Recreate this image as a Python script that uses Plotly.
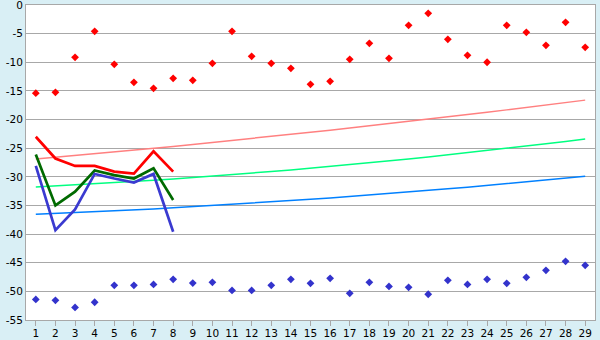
import plotly.graph_objects as go

categories = list(range(1, 30))

red_points = [-15.4, -15.25, -9.14, -4.6, -10.36, -13.5, -14.55, -12.8, -13.15, -10.19,
              -4.6, -8.97, -10.19, -11.06, -13.85, -13.33, -9.49, -6.69, -9.31, -3.55,
              -1.45, -6.0, -8.79, -10.0, -3.55, -4.77, -7.04, -3.03, -7.39]
blue_points = [-51.4, -51.57, -52.8, -51.9, -48.95, -48.95, -48.78, -47.9, -48.55, -48.43,
               -49.83, -49.83, -48.95, -47.9, -48.6, -47.73, -50.35, -48.43, -49.13, -49.3,
               -50.5, -48.08, -48.78, -47.9, -48.6, -47.55, -46.33, -44.76, -45.46]

line_cats = [1, 2, 3, 4, 5, 6, 7, 8]
red_line = [-23.0, -26.8, -28.1, -28.1, -29.1, -29.45, -25.55, -29.1]
green_line = [-26.1, -35.0, -32.6, -28.9, -29.7, -30.3, -28.5, -34.05]
blue_line = [-28.1, -39.3, -35.7, -29.5, -30.3, -31.0, -29.5, -39.6]

red_trend = [-26.90, -26.60, -26.29, -25.98, -25.67, -25.34, -25.02, -24.69, -24.35, -24.01,
             -23.67, -23.32, -22.96, -22.60, -22.23, -21.86, -21.49, -21.11, -20.72, -20.34,
             -19.94, -19.54, -19.14, -18.73, -18.31, -17.89, -17.47, -17.04, -16.61]
green_trend = [-31.78, -31.60, -31.42, -31.23, -31.02, -30.81, -30.59, -30.36, -30.12, -29.87,
               -29.61, -29.35, -29.07, -28.79, -28.49, -28.19, -27.87, -27.55, -27.22, -26.88,
               -26.53, -26.17, -25.80, -25.43, -25.04, -24.64, -24.24, -23.83, -23.40]
blue_trend = [-36.55, -36.41, -36.26, -36.11, -35.94, -35.78, -35.60, -35.42, -35.22, -35.03,
              -34.82, -34.61, -34.39, -34.16, -33.93, -33.69, -33.44, -33.19, -32.93, -32.66,
              -32.38, -32.10, -31.81, -31.51, -31.20, -30.89, -30.57, -30.25, -29.91]

y_ticks = [0, -5, -10, -15, -20, -25, -30, -35, -40, -45, -50, -55]

fig = go.Figure()
fig.add_trace(go.Scatter(x=categories, y=red_trend, mode="lines",
                         line=dict(color="#ff8080", width=1.5)))
fig.add_trace(go.Scatter(x=categories, y=green_trend, mode="lines",
                         line=dict(color="#00ff80", width=1.5)))
fig.add_trace(go.Scatter(x=categories, y=blue_trend, mode="lines",
                         line=dict(color="#0080ff", width=1.5)))
fig.add_trace(go.Scatter(x=line_cats, y=red_line, mode="lines",
                         line=dict(color="#ff0000", width=2.7)))
fig.add_trace(go.Scatter(x=line_cats, y=green_line, mode="lines",
                         line=dict(color="#006a00", width=2.7)))
fig.add_trace(go.Scatter(x=line_cats, y=blue_line, mode="lines",
                         line=dict(color="#3a3ad0", width=2.7)))
fig.add_trace(go.Scatter(x=categories, y=red_points, mode="markers",
                         marker=dict(symbol="diamond", size=6, color="#ff0000")))
fig.add_trace(go.Scatter(x=categories, y=blue_points, mode="markers",
                         marker=dict(symbol="diamond", size=6, color="#3333cc")))

fig.update_layout(
    width=600, height=340,
    margin=dict(l=26, r=5, t=5, b=20, autoexpand=False),
    paper_bgcolor="#d9eff5",
    plot_bgcolor="#ffffff",
    showlegend=False,
    font=dict(family="DejaVu Sans", size=10.5, color="#000000"),
)
fig.update_xaxes(
    range=[0.5, 29.5], tickmode="array", tickvals=categories,
    ticktext=[str(c) for c in categories],
    showgrid=False, ticks="outside", ticklen=5, tickcolor="#a8a8a8",
    showline=True, linecolor="#a8a8a8", linewidth=1, mirror=True,
    zeroline=False, ticklabeloverflow="allow", automargin=False,
    ticklabelstandoff=-2,
)
fig.update_yaxes(
    range=[-55, 0], tickmode="array", tickvals=y_ticks,
    ticktext=[str(v) for v in y_ticks],
    showgrid=True, gridcolor="#a8a8a8", gridwidth=1,
    showline=True, linecolor="#a8a8a8", linewidth=1, mirror=True,
    zeroline=False, ticks="", ticklabeloverflow="allow", automargin=False,
)

fig.write_html("out.html")
